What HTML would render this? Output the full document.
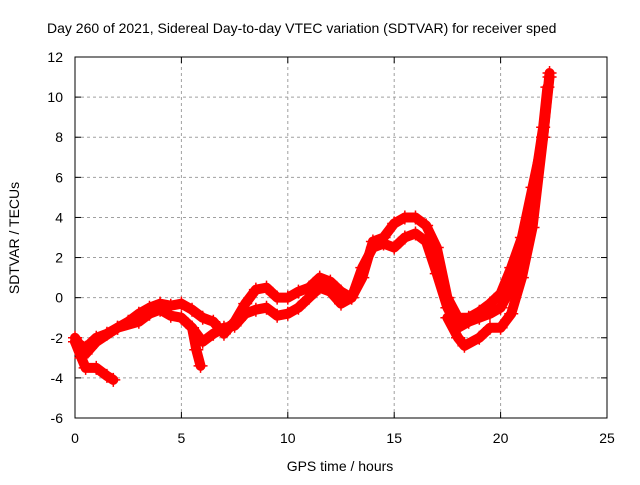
<!DOCTYPE html>
<html><head><meta charset="utf-8"><style>
body{margin:0;background:#fff;}
svg text{font-family:"Liberation Sans",sans-serif;font-size:14px;fill:#000;}
</style></head><body>
<svg id="chart" width="640" height="480">
<text x="47" y="33">Day 260 of 2021, Sidereal Day-to-day VTEC variation (SDTVAR) for receiver sped</text>
<g id="grid"></g>
<g id="axes"></g>
<g id="series"></g>
<text x="340" y="471" text-anchor="middle">GPS time / hours</text>
<text transform="translate(19,238) rotate(-90)" text-anchor="middle">SDTVAR / TECUs</text>
</svg>
<script>
const xTicks=[0,5,10,15,20,25];
const yTicks=[-6,-4,-2,0,2,4,6,8,10,12];
const trackA_x=[0,0.5,1,1.5,2,2.5,3,3.5,4,4.5,5,5.5,6,6.5,7,7.5,8,8.5,9,9.5,10,10.5,11,11.5,12,12.5,13,13.5,14,14.5,15,15.5,16,16.5,17,17.5,18,18.5,19,19.5,20,20.5,21,21.5,22,22.3];
const trackA_y=[-2.2,-2.5,-2,-1.8,-1.5,-1.2,-0.8,-0.5,-0.3,-0.4,-0.3,-0.6,-1,-1.2,-1.8,-1.2,-0.3,0.4,0.5,0,0,0.3,0.5,1.0,0.8,0.3,0,1,2.8,3,3.7,4.0,4.0,3.6,2.5,0,-1.0,-1.0,-0.7,-0.3,0.2,1.5,3,5.5,8,11.2];
const trackB_x=[0,0.5,1,2,3,3.5,4,4.5,5,5.5,6,6.5,7,7.5,8,8.5,9,9.5,10,10.5,11,11.5,12,12.5,13,13.5,14,14.5,15,15.5,16,16.5,17,17.5,18,18.5,19,19.5,20,20.5,21,21.5,22,22.2];
const trackB_y=[-2,-2.8,-2.2,-1.5,-1.2,-0.8,-0.6,-0.9,-1,-1.5,-2.2,-1.8,-1.5,-1.4,-0.8,-0.6,-0.5,-0.9,-0.8,-0.5,0,0.5,0.3,-0.3,0,1.5,2.5,2.7,2.5,3.0,3.2,2.8,1.2,-0.5,-1.5,-1.2,-1.0,-0.8,-0.5,0.5,2.5,5,8.5,10.5];
const trackC_x=[0,0.3,0.5,1,1.5,1.8];
const trackC_y=[-2.2,-3,-3.5,-3.5,-3.9,-4.1];
const trackD_x=[17.5,18,18.3,19,19.5,20,20.5,21,21.5,22,22.3];
const trackD_y=[-1,-2,-2.4,-2,-1.5,-1.5,-0.8,1,3.5,8,11];
const trackE_x=[5.5,5.7,5.9];
const trackE_y=[-1.5,-2.6,-3.4];
const X0=75,X1=607,Y0=418,Y1=57;
const sx=v=>X0+(v-0)/(25-0)*(X1-X0);
const sy=v=>Y0-(v+6)/18*(Y0-Y1);
const NS="http://www.w3.org/2000/svg";
const grid=document.getElementById('grid'),axes=document.getElementById('axes'),ser=document.getElementById('series');
function mk(tag,attrs,parent){const e=document.createElementNS(NS,tag);for(const k in attrs)e.setAttribute(k,attrs[k]);parent.appendChild(e);return e;}
xTicks.forEach(t=>{
 if(t>0&&t<25){const g=mk('line',{x1:sx(t),x2:sx(t),y1:Y0,y2:Y1,stroke:'#a0a0a0','stroke-dasharray':'3,3'},grid);
 
 }
 const l=mk('text',{x:sx(t),y:Y0+25,'text-anchor':'middle'},axes);l.textContent=t;
 
 
 mk('line',{x1:sx(t),x2:sx(t),y1:Y0,y2:Y0-6,stroke:'#000'},axes);
 mk('line',{x1:sx(t),x2:sx(t),y1:Y1,y2:Y1+6,stroke:'#000'},axes);
});
yTicks.forEach(t=>{
 if(t>-6&&t<12){const g=mk('line',{x1:X0,x2:X1,y1:sy(t),y2:sy(t),stroke:'#a0a0a0','stroke-dasharray':'3,3'},grid);
 
 }
 const l=mk('text',{x:X0-12,y:sy(t)+5,'text-anchor':'end'},axes);l.textContent=t;
 
 
 mk('line',{x1:X0,x2:X0+6,y1:sy(t),y2:sy(t),stroke:'#000'},axes);
 mk('line',{x1:X1,x2:X1-6,y1:sy(t),y2:sy(t),stroke:'#000'},axes);
});
mk('rect',{x:X0,y:Y1,width:X1-X0,height:Y0-Y1,fill:'none',stroke:'#000'},axes);
[[trackA_x,trackA_y],[trackB_x,trackB_y],[trackC_x,trackC_y],[trackD_x,trackD_y],[trackE_x,trackE_y]].forEach(([xs,ys])=>{
 const pts=xs.map((x,i)=>sx(x)+','+sy(ys[i])).join(' ');
 const p=mk('polyline',{points:pts,fill:'none',stroke:'#ff0000','stroke-width':10,'stroke-linejoin':'round','stroke-linecap':'round'},ser);
 
 
 xs.forEach((x,i)=>{const cx=sx(x),cy=sy(ys[i]);
  const m=mk('path',{d:`M${cx-7},${cy}H${cx+7}M${cx},${cy-7}V${cy+7}`,stroke:'#ff0000','stroke-width':1.5},ser);
  
  });
});
</script>
</body></html>
